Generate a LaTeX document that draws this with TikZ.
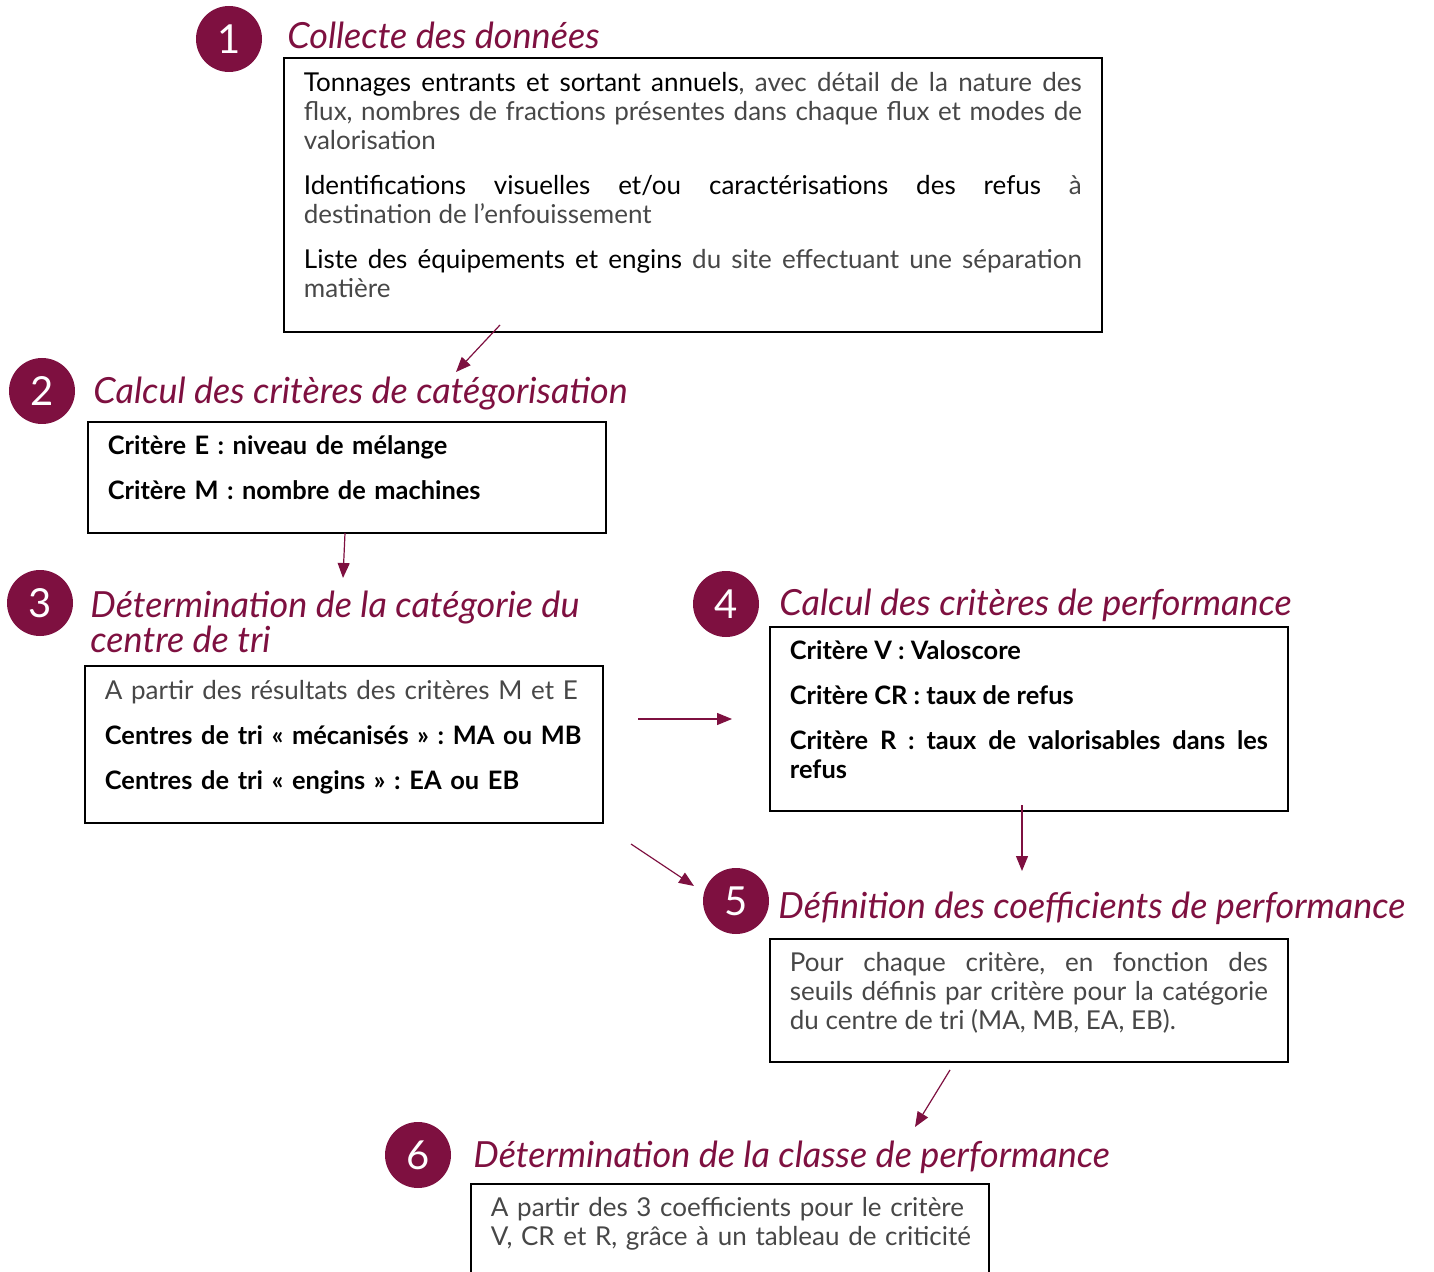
\documentclass[tikz,border=0pt]{standalone}
\usepackage{fontspec}
\setmainfont{Lato}
\usepackage{xcolor}
\usepackage{tikz}
\usetikzlibrary{arrows.meta,positioning}
\definecolor{bordeaux}{RGB}{126,16,64}
\newcommand{\keyterm}[1]{{\color{black}#1}}
\newcommand{\critline}[1]{{\color{black}\fontsize{12.7}{14.5}\selectfont\bfseries #1}}
\newcommand{\boxtop}[1]{\rule{0pt}{#1}}
\newcommand{\boxbot}[1]{\rule[-#1]{0pt}{#1}}

\begin{document}
\frenchspacing
\begin{tikzpicture}[
    >=Triangle,
    x=0.5pt,
    y=-0.5pt,
    every node/.style={font=\fontsize{13}{14.5}\selectfont},
    stepnum/.style={circle, fill=bordeaux, text=white, minimum size=33pt, inner sep=0pt, font=\fontsize{20}{20}\selectfont},
    steptitle/.style={anchor=west, inner sep=0pt, text=bordeaux, align=left, font=\fontsize{18}{17.5}\selectfont\itshape},
    stepbox/.style={draw, line width=0.9pt, anchor=north west, inner xsep=10pt, inner ysep=0pt, text=black!72},
    boldbox/.style={stepbox, text=black, font=\fontsize{12.7}{14.5}\selectfont\bfseries},
    flowarrow/.style={-{Triangle[length=7.5pt, width=6pt]}, color=bordeaux, line width=0.6pt}
  ]
  \useasboundingbox (0,0) rectangle (1434,1272);
  \clip (0,0) rectangle (1434,1272);

  % step 1
  \node[stepnum] (n1) at (229,39) {1};
  \node[steptitle] (t1) at (287,35) {Collecte des données};
  \node[stepbox, text width=389pt, align=justify] (collecte) at (283,57) {\boxtop{17pt}\keyterm{Tonnages entrants et sortant annuels}, avec détail de la nature des\linebreak
    flux, nombres de fractions présentes dans chaque flux et modes de\linebreak
    valorisation\\[8pt]
    \keyterm{Identifications visuelles et/ou caractérisations des refus} à\linebreak
    destination de l’enfouissement\\[8pt]
    \keyterm{Liste des équipements et engins} du site effectuant une séparation\linebreak
    matière\boxbot{17pt}};

  % step 2
  \node[stepnum] (n2) at (42,391) {2};
  \node[steptitle] (t2) at (93,394) {Calcul des critères de catégorisation};
  \node[boldbox, text width=239pt, align=left] (categorisation) at (87,421) {\boxtop{16.5pt}Critère E : niveau de mélange\\[8pt]
    Critère M : nombre de machines\boxbot{16.5pt}};

  % step 3
  \node[stepnum] (n3) at (40,603) {3};
  \node[steptitle] (t3) at (90,622) {Détermination de la catégorie du\\centre de tri};
  \node[stepbox, text width=239pt, align=left] (categorie) at (84,665) {\boxtop{17pt}\mbox{A partir des résultats des critères M et E}\\[8pt]
    \mbox{\critline{Centres de tri «~mécanisés~» : MA ou MB}}\\[8pt]
    \mbox{\critline{Centres de tri «~engins~» : EA ou EB}}\boxbot{16.5pt}};

  % step 4
  \node[stepnum] (n4) at (726,604) {4};
  \node[steptitle] (t4) at (779,605) {Calcul des critères de performance};
  \node[boldbox, text width=239pt, align=justify] (performance) at (769,626) {\boxtop{16.5pt}Critère V : Valoscore\\[8pt]
    Critère CR : taux de refus\\[8pt]
    Critère R : taux de valorisables dans les\linebreak
    refus\boxbot{16pt}};

  % step 5
  \node[stepnum] (n5) at (736,901) {5};
  \node[steptitle] (t5) at (778,908) {Définition des coefficients de performance};
  \node[stepbox, text width=239pt, align=justify] (coefficients) at (769,938) {\boxtop{16.5pt}Pour chaque critère, en fonction des\linebreak
    seuils définis par critère pour la catégorie\linebreak
    du centre de tri (MA, MB, EA, EB).\boxbot{16pt}};

  % step 6
  \node[stepnum] (n6) at (418,1155) {6};
  \node[steptitle] (t6) at (473,1157) {Détermination de la classe de performance};
  \node[stepbox, text width=239pt, align=left] (classe) at (470,1183) {\boxtop{16.5pt}\mbox{A partir des 3 coefficients pour le critère}\\
    \mbox{V, CR et R, grâce à un tableau de criticité}\boxbot{22pt}};

  % arrows
  \coordinate (a1s) at (500,325);
  \coordinate (a1e) at (456,372);
  \coordinate (a2s) at (345,533);
  \coordinate (a2e) at (343,578);
  \coordinate (a3s) at (638,719);
  \coordinate (a3e) at (732,719);
  \coordinate (a4s) at (1022,805);
  \coordinate (a4e) at (1022,871);
  \coordinate (a5s) at (631,844);
  \coordinate (a5e) at (694,886);
  \coordinate (a6s) at (950,1070);
  \coordinate (a6e) at (915,1127);
  \draw[flowarrow] (a1s) -- (a1e);
  \draw[flowarrow] (a2s) -- (a2e);
  \draw[flowarrow] (a3s) -- (a3e);
  \draw[flowarrow] (a4s) -- (a4e);
  \draw[flowarrow] (a5s) -- (a5e);
  \draw[flowarrow] (a6s) -- (a6e);
\end{tikzpicture}
\end{document}
